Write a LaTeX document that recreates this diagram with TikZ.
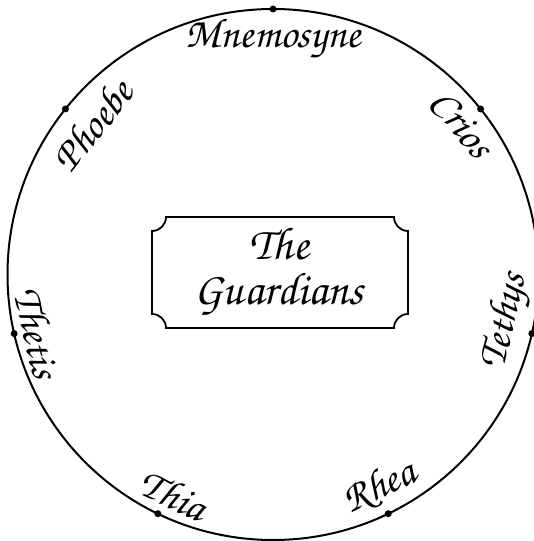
\documentclass[tikz,border=0pt]{standalone}
\usepackage[T1]{fontenc}
\usetikzlibrary{calc}
\newcommand\chorus{\fontencoding{T1}\fontfamily{pzc}\fontseries{mb}\fontshape{it}\selectfont}
\begin{document}
\begin{tikzpicture}[x=1pt,y=1pt,
  rim/.style={line width=2pt},
  dot/.style={circle,fill,inner sep=0pt,minimum size=7pt},
  lbl/.style={font=\fontsize{42}{46}\chorus, inner sep=0pt},
  plate/.style={line width=1.8pt}]
\useasboundingbox (0,0) rectangle (534,541);
\coordinate (O) at (273,266.5);
\draw[rim] (O) circle[radius=265.5];
\foreach \i/\a in {1/90,2/38.571,3/-12.857,4/-64.286,5/-115.714,6/192.857,7/141.429}
  \node[dot] (d\i) at ($(O)+(\a:265.5)$) {};
\node[lbl] (mnemosyne) at ($(O)+(90:235)$) {Mnemosyne};
\node[lbl,rotate=51.4] (phoebe) at ($(O)+(140.4:235)$) {Phoebe};
\node[lbl,rotate=-51.4] (crios) at ($(O)+(38.6:242)$) {Crios};
\node[lbl,rotate=77.1] (tethys) at ($(O)+(-11.5:238)$) {Tethys};
\node[lbl,rotate=25.7] (rhea) at ($(O)+(296.6:238)$) {Rhea};
\node[lbl,rotate=-25.7] (thia) at ($(O)+(245.7:241)$) {Thia};
\node[lbl,rotate=-77.1] (thetis) at ($(O)+(193.9:242)$) {Thetis};
\node[font=\fontsize{46}{45}\chorus, align=center, inner sep=0pt] (title) at (279,270) {The\\Guardians};
\draw[plate] (166,324) -- (394,324) arc[start angle=180,end angle=270,radius=14]
  -- (408,227) arc[start angle=90,end angle=180,radius=14]
  -- (166,213) arc[start angle=0,end angle=90,radius=14]
  -- (152,310) arc[start angle=270,end angle=360,radius=14] -- cycle;
\end{tikzpicture}
\end{document}
